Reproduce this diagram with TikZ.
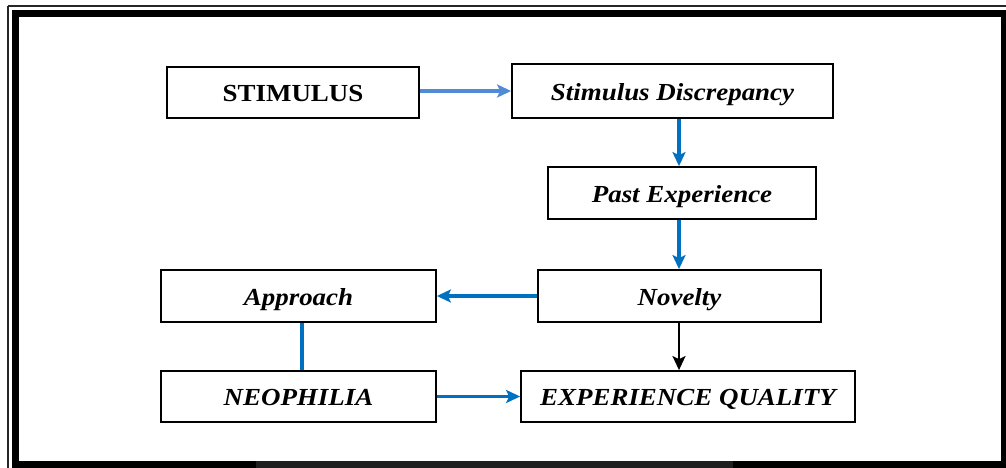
\documentclass[tikz,border=0pt]{standalone}
\usepackage{fontspec}
\setmainfont{Liberation Serif}[FakeStretch=1.1]
\usetikzlibrary{arrows.meta}
\definecolor{flowblue}{HTML}{0070C0}
\definecolor{softblue}{HTML}{4F8BD6}
\begin{document}
\begin{tikzpicture}[x=1pt,y=-1pt,
  box/.style={draw=black,line width=1.8pt,inner sep=0pt,anchor=center,
    text height=18.6pt,text depth=0pt,
    font=\fontsize{24.5}{28}\selectfont\bfseries\itshape},
  plainbox/.style={box,font=\fontsize{24.5}{28}\selectfont\bfseries},
  tip/.style={-{Stealth[length=14pt,width=13pt,inset=3pt]}},
  blueflow/.style={tip,draw=flowblue,line width=3.2pt},
  softflow/.style={tip,draw=softblue,line width=3.2pt},
  blackflow/.style={tip,draw=black,line width=2pt},
  link/.style={draw=flowblue,line width=3.2pt}]
\useasboundingbox (0,0) rectangle (1006,468);
\fill[white] (0,0) rectangle (1006,468);
% page frame
\draw[line width=1.2pt,black!85] (8,6) -- (1010,6);
\draw[line width=1.2pt,black!85] (8,6) -- (8,470);
\draw[line width=7pt] (15.5,13.5) rectangle (1004.5,464.5);
\fill[black!88] (256,461) rectangle (733,468);
% boxes
\node[plainbox,minimum width=252pt,minimum height=51pt] (stim) at (293,92.5) {STIMULUS};
\node[box,minimum width=321pt,minimum height=54pt] (disc) at (672.5,91) {Stimulus Discrepancy};
\node[box,minimum width=268pt,minimum height=52pt] (past) at (682,193) {Past Experience};
\node[box,minimum width=283pt,minimum height=52pt] (nov) at (679.5,296) {Novelty};
\node[box,minimum width=275pt,minimum height=52pt] (app) at (298.5,296) {Approach};
\node[box,minimum width=275pt,minimum height=51pt] (neo) at (298.5,396.5) {NEOPHILIA};
\node[box,minimum width=334pt,minimum height=51pt] (exq) at (688,396.5) {EXPERIENCE QUALITY};
% connector columns
\coordinate (col) at (679,0);
\coordinate (lcol) at (302,0);
% connectors
\draw[softflow] (stim.east |- disc.west) -- (disc.west);
\draw[blueflow] (col |- disc.south) -- (col |- past.north);
\draw[blueflow] (col |- past.south) -- (col |- nov.north);
\draw[blueflow] (nov.west) -- (app.east);
\draw[link] (lcol |- app.south) -- (lcol |- neo.north);
\draw[blueflow] (neo.east) -- (exq.west);
\draw[blackflow] (col |- nov.south) -- (col |- exq.north);
\end{tikzpicture}
\end{document}
